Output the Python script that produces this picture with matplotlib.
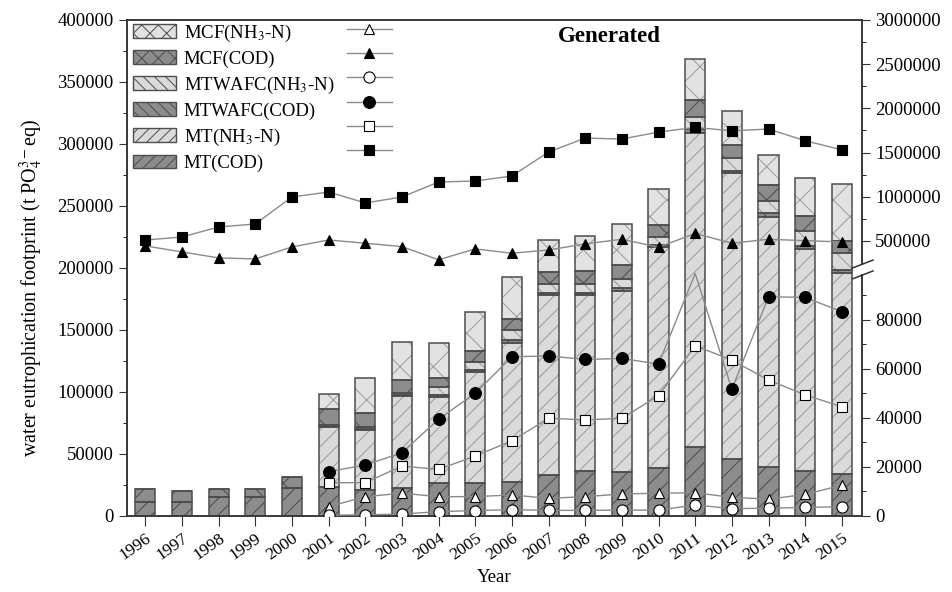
import numpy as np
import matplotlib
matplotlib.use("Agg")
import matplotlib.pyplot as plt
from matplotlib.patches import Patch, Rectangle
from matplotlib.lines import Line2D

plt.rcParams['font.family'] = ['Liberation Serif', 'DejaVu Serif']
plt.rcParams['mathtext.fontset'] = 'stix'
plt.rcParams['hatch.linewidth'] = 0.7

years = list(range(1996, 2016))
year_labels = [str(y) for y in years]

# stacked bar components (left axis)
mt_cod = [11000, 11000, 15000, 15600, 22300, 23600, 21000, 22300, 26400, 26400,
          27600, 33000, 36500, 35700, 38400, 55900, 46000, 39300, 36300, 33600]
mt_nh3 = [0, 0, 0, 0, 0, 48400, 48400, 74400, 69800, 89500,
          112000, 145100, 141600, 145900, 178400, 252600, 230300, 201500, 178700, 162000]
mtwafc_cod = [0, 0, 0, 0, 0, 900, 1000, 1000, 1400, 1900,
              2200, 1900, 1900, 1900, 1600, 3200, 2100, 3200, 2900, 2700]
mtwafc_nh3 = [0, 0, 0, 0, 0, 500, 1700, 1200, 6200, 6200,
              8100, 7000, 7000, 7500, 6700, 10200, 10000, 10200, 12100, 13500]
mcf_cod = [10500, 9100, 6700, 6000, 9400, 12600, 11300, 10700, 7300, 9400,
           8600, 9900, 10500, 11300, 9400, 13500, 10700, 12700, 12100, 10200]
mcf_nh3 = [0, 0, 0, 0, 0, 12300, 27700, 30900, 28200, 31000,
           33900, 25500, 28200, 32800, 29600, 32800, 27600, 24200, 30600, 45500]

nan = np.nan
# line series (right axis, broken scale)
line_mt_cod = [510000, 545000, 658000, 692000, 997000, 1054000, 930000, 997000, 1167000, 1178000,
               1235000, 1506000, 1664000, 1653000, 1732000, 1785000, 1746000, 1766000, 1634000, 1531000]
line_mcf_cod = [444000, 376000, 308000, 297000, 432000, 511000, 474000, 436000, 287000, 410000,
                361000, 398000, 466000, 519000, 429000, 585000, 474000, 519000, 503000, 489000]
line_mtwafc_cod = [nan, nan, nan, nan, nan, 18100, 20800, 25800, 39500, 50100,
                   65000, 65300, 63900, 64300, 62000, 99000, 51700, 89500, 89200, 83400]
line_mt_nh3 = [nan, nan, nan, nan, nan, 13600, 13600, 20400, 19000, 24500,
               30700, 39900, 39200, 39900, 49100, 69500, 63600, 55500, 49400, 44600]
line_mcf_nh3 = [nan, nan, nan, nan, nan, 3800, 7900, 9300, 7900, 7900,
                8600, 7200, 7900, 9000, 9300, 9500, 7600, 6900, 8800, 12600]
line_mtwafc_nh3 = [nan, nan, nan, nan, nan, 300, 500, 800, 1800, 2200,
                   2600, 2300, 2300, 2400, 2400, 4500, 3000, 3200, 3500, 3800]

labels = ['MCF(NH$_3$-N)', 'MCF(COD)', 'MTWAFC(NH$_3$-N)', 'MTWAFC(COD)', 'MT(NH$_3$-N)', 'MT(COD)']

fig = plt.figure(figsize=(9.52, 5.92), dpi=100)
ax = fig.add_axes([127/952, 76/592, 735/952, 496/592])

DARK, DARK_H = '#8c8c8c', '#4a4a4a'
LIGHT, LIGHT_H = '#dadada', '#9a9a9a'
EDGE = '#4d4d4d'

x = np.array(years, dtype=float)
width = 0.55
stack = [
    (mt_cod, DARK, DARK_H, '//'),
    (mt_nh3, LIGHT, LIGHT_H, '//'),
    (mtwafc_cod, DARK, DARK_H, '\\\\'),
    (mtwafc_nh3, LIGHT, LIGHT_H, '\\\\'),
    (mcf_cod, DARK, DARK_H, 'x'),
    (mcf_nh3, '#e2e2e2', LIGHT_H, 'x'),
]
bottom = np.zeros(len(years))
for vals, fc, hc, h in stack:
    v = np.array(vals, dtype=float)
    ax.bar(x, v, width, bottom=bottom, color=fc, edgecolor=hc, hatch=h, linewidth=0, zorder=2)
    ax.bar(x, v, width, bottom=bottom, fill=False, edgecolor=EDGE, linewidth=1.1, zorder=3)
    bottom += v

ax.set_xlim(1995.5, 2015.55)
ax.set_ylim(0, 400000)
ax.set_yticks(np.arange(0, 400001, 50000))
ax.set_yticks(np.arange(25000, 400000, 50000), minor=True)
ax.set_yticklabels([str(int(t)) for t in np.arange(0, 400001, 50000)], fontsize=13.5)
ax.set_xticks(x)
ax.set_xticklabels(year_labels, rotation=35, ha='right', rotation_mode='anchor', fontsize=12.5)
ax.tick_params(axis='both', direction='out', colors='#333333', labelcolor='black')
ax.tick_params(axis='y', which='major', length=6)
ax.tick_params(axis='y', which='minor', length=3)
ax.tick_params(axis='x', length=7)
ax.set_ylabel('water eutrophication footprint (t PO$_4^{3-}$eq)', fontsize=14.5)
ax.yaxis.set_label_coords(-0.112, 0.46)
ax.set_xlabel('Year', fontsize=13.5)
for s in ax.spines.values():
    s.set_color('#333333')
    s.set_linewidth(1.1)

# right axis with broken scale
ax2 = ax.twinx()
xp = [0, 100000, 250000, 3000000]
fp = [0, 0.494, 0.51, 1.0]
fwd = lambda v: np.interp(v, xp, fp)
inv = lambda f: np.interp(f, fp, xp)
ax2.set_yscale('function', functions=(fwd, inv))
ax2.set_ylim(0, 3000000)
rmaj = [0, 20000, 40000, 60000, 80000, 500000, 1000000, 1500000, 2000000, 2500000, 3000000]
rmin = [10000, 30000, 50000, 70000, 90000, 750000, 1250000, 1750000, 2250000, 2750000]
ax2.set_yticks(rmaj)
ax2.set_yticklabels([str(t) for t in rmaj], fontsize=13.5)
ax2.set_yticks(rmin, minor=True)
ax2.tick_params(axis='y', direction='out', colors='#333333', labelcolor='black')
ax2.tick_params(axis='y', which='major', length=6)
ax2.tick_params(axis='y', which='minor', length=3)
for s in ax2.spines.values():
    s.set_color('#333333')
    s.set_linewidth(1.1)

LC = '#8a8a8a'
series = [
    (line_mcf_nh3, '^', 'white', 7.5, None),
    (line_mcf_cod, '^', 'black', 7.5, None),
    (line_mtwafc_nh3, 'o', 'white', 8, None),
    (line_mtwafc_cod, 'o', 'black', 8.5, [i for i in range(20) if i != 15]),
    (line_mt_nh3, 's', 'white', 6.5, None),
    (line_mt_cod, 's', 'black', 6.5, None),
]
line_handles = []
for vals, m, mfc, ms, me in series:
    ax2.plot(x, vals, color=LC, lw=1.0, marker=m, markerfacecolor=mfc, markeredgecolor='black',
             markeredgewidth=0.8, markersize=ms, markevery=me, zorder=4)
    line_handles.append(Line2D([], [], color=LC, lw=1.0, marker=m, markerfacecolor=mfc,
                               markeredgecolor='black', markeredgewidth=0.8, markersize=ms))

# axis break mark on right spine
ax2.add_patch(Rectangle((0.99, 0.487), 0.02, 0.02, transform=ax2.transAxes, facecolor='white',
                        edgecolor='none', clip_on=False, zorder=10))
for yb in (0.478, 0.500):
    ax2.plot([0.987, 1.015], [yb, yb + 0.016], transform=ax2.transAxes, color='#333333', lw=1.1,
             clip_on=False, zorder=11)

bar_handles = [
    Patch(facecolor='#e2e2e2', edgecolor=EDGE, hatch='xx', linewidth=1.0),
    Patch(facecolor=DARK, edgecolor=EDGE, hatch='xx', linewidth=1.0),
    Patch(facecolor=LIGHT, edgecolor=EDGE, hatch='\\\\\\', linewidth=1.0),
    Patch(facecolor=DARK, edgecolor=EDGE, hatch='\\\\\\', linewidth=1.0),
    Patch(facecolor=LIGHT, edgecolor=EDGE, hatch='///', linewidth=1.0),
    Patch(facecolor=DARK, edgecolor=EDGE, hatch='///', linewidth=1.0),
]
leg1 = ax2.legend(bar_handles, labels, loc='upper left', bbox_to_anchor=(0.008, 0.995),
                  frameon=False, fontsize=13.5, handlelength=2.3, handleheight=0.75,
                  labelspacing=0.36, borderpad=0, borderaxespad=0, handletextpad=0.4)
ax2.add_artist(leg1)
leg2 = ax2.legend(line_handles, [''] * 6, loc='upper left', bbox_to_anchor=(0.299, 0.995),
                  frameon=False, fontsize=13.5, handlelength=2.4, handleheight=0.75,
                  labelspacing=0.36, borderpad=0, borderaxespad=0, handletextpad=0.0)

ax2.text(2008.67, 0.966, 'Generated', transform=ax2.get_xaxis_transform(), ha='center', va='center',
         fontsize=16.5, fontweight='bold')

fig.savefig('out.png', dpi=100)
